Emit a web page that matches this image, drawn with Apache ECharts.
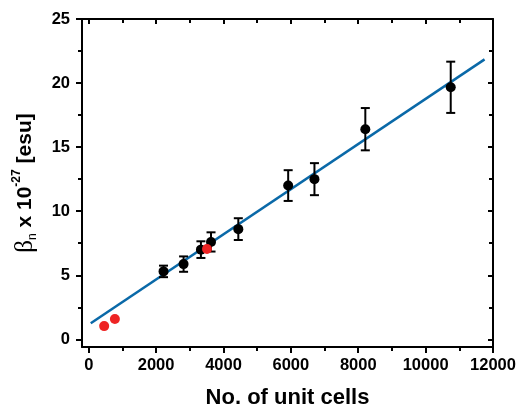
<!DOCTYPE html>
<html>
<head>
<meta charset="utf-8">
<script src="https://cdn.jsdelivr.net/npm/echarts@6/dist/echarts.min.js"></script>
<style>html,body{margin:0;padding:0;background:#fff}#c{width:519px;height:414px}</style>
</head>
<body>
<div id="c"></div>
<script>
// Data
var cellsBlack = [2220, 2815, 3330, 3630, 4440, 5920, 6700, 8210, 10745];
var betaBlack  = [5.3, 5.87, 7.0, 7.6, 8.6, 12.0, 12.5, 16.4, 19.67];
var betaErr    = [0.45, 0.6, 0.65, 0.75, 0.85, 1.2, 1.25, 1.65, 2.0];
var cellsRed   = [458, 776, 3510];
var betaRed    = [1.03, 1.59, 7.05];
var fitX       = [60, 11750];
var fitY       = [1.25, 21.85];
var xMajorTicks = [0, 2000, 4000, 6000, 8000, 10000, 12000];
var xMinorTicks = [1000, 3000, 5000, 7000, 9000, 11000];
var yMajorTicks = [0, 5, 10, 15, 20, 25];
var yMinorTicks = [2.5, 7.5, 12.5, 17.5, 22.5];

var chart = echarts.init(document.getElementById('c'));
function fmt(v) { return String(v); }
function xAx(pos, ticks, len, inside, line, labels) {
  return {
    type: 'value', position: pos, min: -200, max: 12000,
    axisLine: {show: line, onZero: false, lineStyle: {color: '#000', width: 2}},
    axisTick: {show: true, customValues: ticks, length: len, inside: inside, lineStyle: {color: '#000', width: 2}},
    axisLabel: {show: labels, customValues: ticks, margin: 10, formatter: fmt,
      fontFamily: 'Liberation Sans', fontWeight: 'bold', fontSize: 16.5, color: '#000'},
    splitLine: {show: false}
  };
}
function yAx(pos, ticks, len, inside, line, labels) {
  return {
    type: 'value', position: pos, min: -0.6, max: 25,
    axisLine: {show: line, onZero: false, lineStyle: {color: '#000', width: 2}},
    axisTick: {show: true, customValues: ticks, length: len, inside: inside, lineStyle: {color: '#000', width: 2}},
    axisLabel: {show: labels, customValues: ticks, margin: 12, formatter: fmt,
      fontFamily: 'Liberation Sans', fontWeight: 'bold', fontSize: 16.5, color: '#000'},
    splitLine: {show: false}
  };
}
var xa0 = xAx('bottom', xMajorTicks, 6, false, true, true);
xa0.name = 'No. of unit cells';
xa0.nameLocation = 'middle';
xa0.nameGap = 40;
xa0.nameTextStyle = {fontFamily: 'Liberation Sans', fontWeight: 'bold', fontSize: 22, color: '#000'};
var ya0 = yAx('left', yMajorTicks, 6, false, true, true);
ya0.name = '{b|β}{s|n}{t| x 10}{p|-27}{t| [esu]}';
ya0.nameLocation = 'middle';
ya0.nameRotate = 90;
ya0.nameGap = 43;
ya0.nameTextStyle = {
  color: '#000', fontFamily: 'Liberation Sans', fontWeight: 'bold', fontSize: 21, lineHeight: 28,
  rich: {
    b: {fontFamily: 'Liberation Serif', fontWeight: 'normal', fontSize: 25, color: '#000'},
    s: {fontFamily: 'Liberation Sans', fontWeight: 'normal', fontSize: 12, color: '#000', verticalAlign: 'bottom'},
    t: {fontFamily: 'Liberation Sans', fontWeight: 'bold', fontSize: 21, color: '#000'},
    p: {fontFamily: 'Liberation Sans', fontWeight: 'bold', fontSize: 12, color: '#000', verticalAlign: 'top'}
  }
};

var errData = cellsBlack.map(function (x, i) { return [x, betaBlack[i] - betaErr[i], betaBlack[i] + betaErr[i]]; });

chart.setOption({
  animation: false,
  backgroundColor: '#fff',
  grid: {left: 82, right: 26, top: 19, bottom: 62, containLabel: false},
  xAxis: [
    xa0,
    xAx('bottom', xMinorTicks, 4, false, false, false),
    xAx('top', xMajorTicks, 5, true, true, false),
    xAx('top', xMinorTicks, 4, true, false, false)
  ],
  yAxis: [
    ya0,
    yAx('left', yMinorTicks, 4, false, false, false),
    yAx('right', yMajorTicks, 5, true, true, false),
    yAx('right', yMinorTicks, 4, true, false, false)
  ],
  series: [
    {
      type: 'line', xAxisIndex: 0, yAxisIndex: 0,
      data: fitX.map(function (x, i) { return [x, fitY[i]]; }),
      symbol: 'none', lineStyle: {color: '#0a69a8', width: 2.5}, z: 3
    },
    {
      type: 'custom', xAxisIndex: 0, yAxisIndex: 0, data: errData, z: 4,
      renderItem: function (params, api) {
        var lo = api.coord([api.value(0), api.value(1)]);
        var hi = api.coord([api.value(0), api.value(2)]);
        var w = 4.5;
        var st = {stroke: '#000', lineWidth: 2};
        return {type: 'group', children: [
          {type: 'line', shape: {x1: lo[0], y1: lo[1], x2: hi[0], y2: hi[1]}, style: st},
          {type: 'line', shape: {x1: lo[0] - w, y1: lo[1], x2: lo[0] + w, y2: lo[1]}, style: st},
          {type: 'line', shape: {x1: hi[0] - w, y1: hi[1], x2: hi[0] + w, y2: hi[1]}, style: st}
        ]};
      }
    },
    {
      type: 'scatter', xAxisIndex: 0, yAxisIndex: 0, z: 5,
      data: cellsBlack.map(function (x, i) { return [x, betaBlack[i]]; }),
      symbol: 'circle', symbolSize: 10, itemStyle: {color: '#000', opacity: 1}
    },
    {
      type: 'scatter', xAxisIndex: 0, yAxisIndex: 0, z: 6,
      data: cellsRed.map(function (x, i) { return [x, betaRed[i]]; }),
      symbol: 'circle', symbolSize: 10, itemStyle: {color: '#ee2424', opacity: 1}
    }
  ]
});
</script>
</body>
</html>
